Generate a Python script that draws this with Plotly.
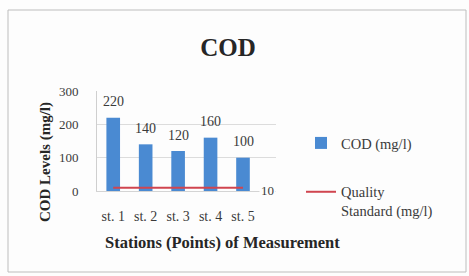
import plotly.graph_objects as go

stations = ["st. 1", "st. 2", "st. 3", "st. 4", "st. 5"]
cod_values = [220, 140, 120, 160, 100]
quality_standard = [10, 10, 10, 10, 10]
y_ticks = [0, 100, 200, 300]

W, H = 469, 276
L, R, T, B = 97, 193, 91, 85
pw, ph = W - L - R, H - T - B

def px(x):
    return (x - L) / pw

def py(y):
    return (H - B - y) / ph

serif = "Liberation Serif, Times New Roman, serif"
txt = "#3a3a3a"
dark = "#262626"
bg = "#fdfdfd"

fig = go.Figure()
fig.add_trace(go.Bar(
    x=stations, y=cod_values, name="COD (mg/l)",
    marker=dict(color="#4a8ad2", line=dict(width=0)),
    legendgroup="a",
))
fig.add_trace(go.Scatter(
    x=stations, y=quality_standard, name="Quality<br>Standard (mg/l)",
    mode="lines", line=dict(color="#d0454f", width=2),
    legendgroup="b",
))
for s, v in zip(stations, cod_values):
    fig.add_annotation(x=s, y=v, text=str(v), showarrow=False,
                       yanchor="middle", yshift=16,
                       font=dict(family=serif, size=14, color=txt))
fig.add_annotation(
    x=stations[-1], y=quality_standard[-1], text=str(quality_standard[-1]),
    showarrow=False, xanchor="left", yanchor="middle", xshift=16, yshift=-3,
    bgcolor=bg, borderpad=1,
    font=dict(family=serif, size=13, color=txt),
)
# axis titles placed like the original (Excel offsets them)
fig.add_annotation(xref="paper", yref="paper", x=px(45), y=py(162),
                   text="<b>COD Levels (mg/l)</b>", textangle=-90,
                   showarrow=False, xanchor="center", yanchor="middle",
                   font=dict(family=serif, size=15, color=dark))
fig.add_annotation(xref="paper", yref="paper", x=px(222), y=py(242),
                   text="<b>Stations (Points) of Measurement</b>",
                   showarrow=False, xanchor="center", yanchor="middle",
                   font=dict(family=serif, size=16.5, color=dark))

fig.update_layout(
    width=W, height=H,
    margin=dict(l=L, r=R, t=T, b=B, autoexpand=False),
    paper_bgcolor=bg, plot_bgcolor=bg,
    bargap=0.58,
    title=dict(text="<b>COD</b>", x=228 / W, xanchor="center",
               y=1 - 47 / H, yanchor="middle",
               font=dict(family=serif, size=25, color=dark)),
    showlegend=True,
    legend=dict(x=px(301), xanchor="left", y=py(127), yanchor="top",
                font=dict(family=serif, size=14.5, color=txt),
                traceorder="grouped", tracegroupgap=27, valign="top",
                bgcolor="rgba(0,0,0,0)", itemwidth=30),
    font=dict(family=serif, color=txt),
    shapes=[dict(type="rect", xref="paper", yref="paper",
                 x0=px(8), x1=px(466), y0=py(272), y1=py(10),
                 line=dict(color="#bdbdbd", width=1), layer="below")],
)
fig.update_yaxes(
    range=[0, 300], tickvals=y_ticks, showgrid=True, gridcolor="#dcdcdc",
    showline=True, linecolor="#cfcfcf", zeroline=False,
    ticks="", ticklabelstandoff=15,
    tickfont=dict(family=serif, size=13, color=txt),
)
fig.update_xaxes(
    showline=True, linecolor="#d4d4d4", ticks="",
    tickfont=dict(family=serif, size=14, color=txt),
    ticklabelstandoff=12,
)

fig.write_html("out.html", config={"displayModeBar": False},
               post_script="document.body.style.margin='0';")
